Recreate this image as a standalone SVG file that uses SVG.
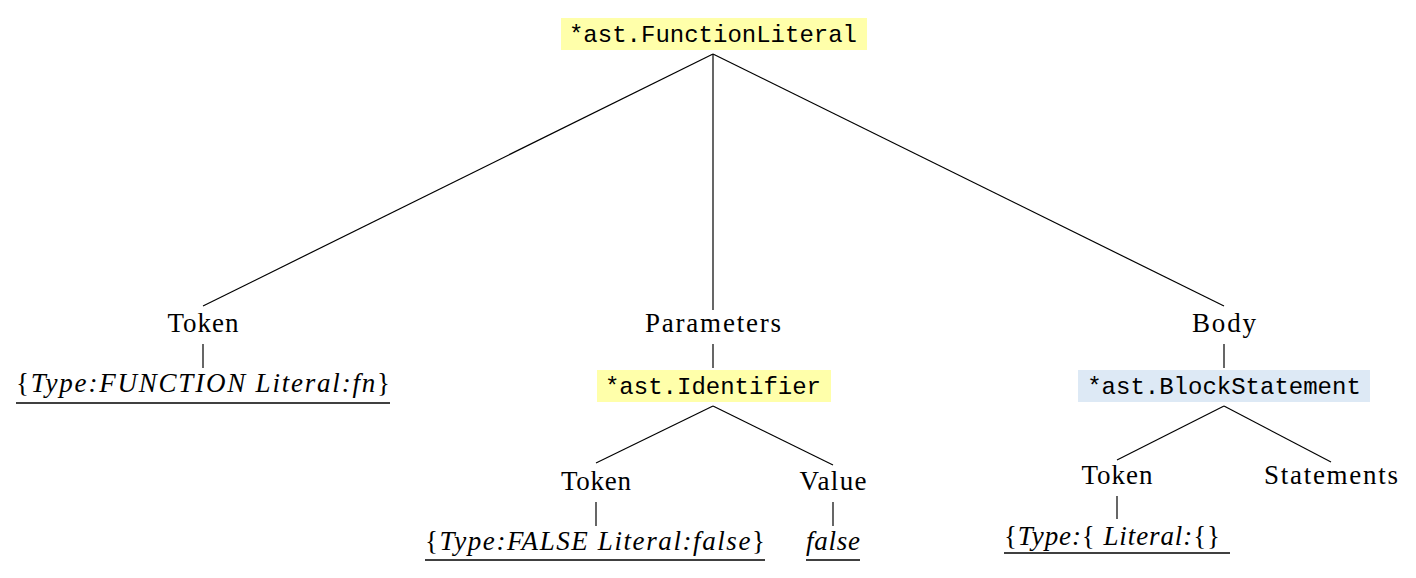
<svg xmlns="http://www.w3.org/2000/svg" width="1416" height="578" viewBox="0 0 1416 578">
<style>
.bg{fill:#fff}
.mono{font-family:"Liberation Mono","DejaVu Sans Mono",monospace;font-size:24px;fill:#000}
.serif{font-family:"Liberation Serif","Times New Roman","DejaVu Serif",serif;font-size:27px;fill:#000}
.it{font-style:italic}
.edge{stroke:#000;stroke-width:1.2;fill:none}
.ul{stroke:#000;stroke-width:1.4}
.y{fill:#ffffaa}
.b{fill:#dde9f5}
</style>
<rect class="bg" width="1416" height="578"/>
<g id="connectors">
<line class="edge" x1="713" y1="54" x2="203" y2="306"/>
<line class="edge" x1="713" y1="54" x2="713" y2="310"/>
<line class="edge" x1="713" y1="54" x2="1224" y2="306"/>
<line class="edge" x1="203" y1="344" x2="203" y2="368"/>
<line class="edge" x1="713" y1="344" x2="713" y2="368"/>
<line class="edge" x1="1224" y1="344" x2="1224" y2="368"/>
<line class="edge" x1="713" y1="406" x2="596" y2="463"/>
<line class="edge" x1="713" y1="406" x2="833" y2="465"/>
<line class="edge" x1="596" y1="502" x2="596" y2="526"/>
<line class="edge" x1="833" y1="502" x2="833" y2="526"/>
<line class="edge" x1="1224" y1="406" x2="1117" y2="460"/>
<line class="edge" x1="1224" y1="406" x2="1331" y2="462"/>
<line class="edge" x1="1117" y1="496" x2="1117" y2="519"/>
</g>
<g id="root">
<rect class="y" x="561" y="18" width="306" height="32"/>
<text class="mono" x="713" y="42" text-anchor="middle">*ast.FunctionLiteral</text>
</g>
<g id="token1">
<text class="serif" x="203" y="332" text-anchor="middle" textLength="71" lengthAdjust="spacing">Token</text>
</g>
<g id="token1-value">
<text class="serif" x="16" y="392" textLength="374" lengthAdjust="spacing">{<tspan class="it">Type:FUNCTION Literal:fn</tspan>}</text>
<line class="ul" x1="16" y1="403" x2="390" y2="403"/>
</g>
<g id="parameters">
<text class="serif" x="713" y="332" text-anchor="middle" textLength="136" lengthAdjust="spacing">Parameters</text>
</g>
<g id="identifier">
<rect class="y" x="597" y="370" width="234" height="32"/>
<text class="mono" x="713" y="394" text-anchor="middle">*ast.Identifier</text>
</g>
<g id="token2">
<text class="serif" x="596" y="490" text-anchor="middle" textLength="70" lengthAdjust="spacing">Token</text>
</g>
<g id="token2-value">
<text class="serif" x="425" y="550" textLength="340" lengthAdjust="spacing">{<tspan class="it">Type:FALSE Literal:false</tspan>}</text>
<line class="ul" x1="425" y1="560" x2="765" y2="560"/>
</g>
<g id="value">
<text class="serif" x="833" y="490" text-anchor="middle" textLength="67" lengthAdjust="spacing">Value</text>
</g>
<g id="value-false">
<text class="serif it" x="833" y="550" text-anchor="middle" textLength="54" lengthAdjust="spacing">false</text>
<line class="ul" x1="806" y1="560" x2="860" y2="560"/>
</g>
<g id="body">
<text class="serif" x="1224" y="332" text-anchor="middle" textLength="64" lengthAdjust="spacing">Body</text>
</g>
<g id="blockstatement">
<rect class="b" x="1078" y="370" width="292" height="32"/>
<text class="mono" x="1224" y="394" text-anchor="middle">*ast.BlockStatement</text>
</g>
<g id="token3">
<text class="serif" x="1117" y="484" text-anchor="middle" textLength="71" lengthAdjust="spacing">Token</text>
</g>
<g id="token3-value">
<text class="serif" x="1004" y="545" textLength="216" lengthAdjust="spacing">{<tspan class="it">Type:</tspan>{<tspan class="it"> Literal:</tspan>{}</text>
<line class="ul" x1="1004" y1="553" x2="1230" y2="553"/>
</g>
<g id="statements">
<text class="serif" x="1331" y="484" text-anchor="middle" textLength="134" lengthAdjust="spacing">Statements</text>
</g>
</svg>
